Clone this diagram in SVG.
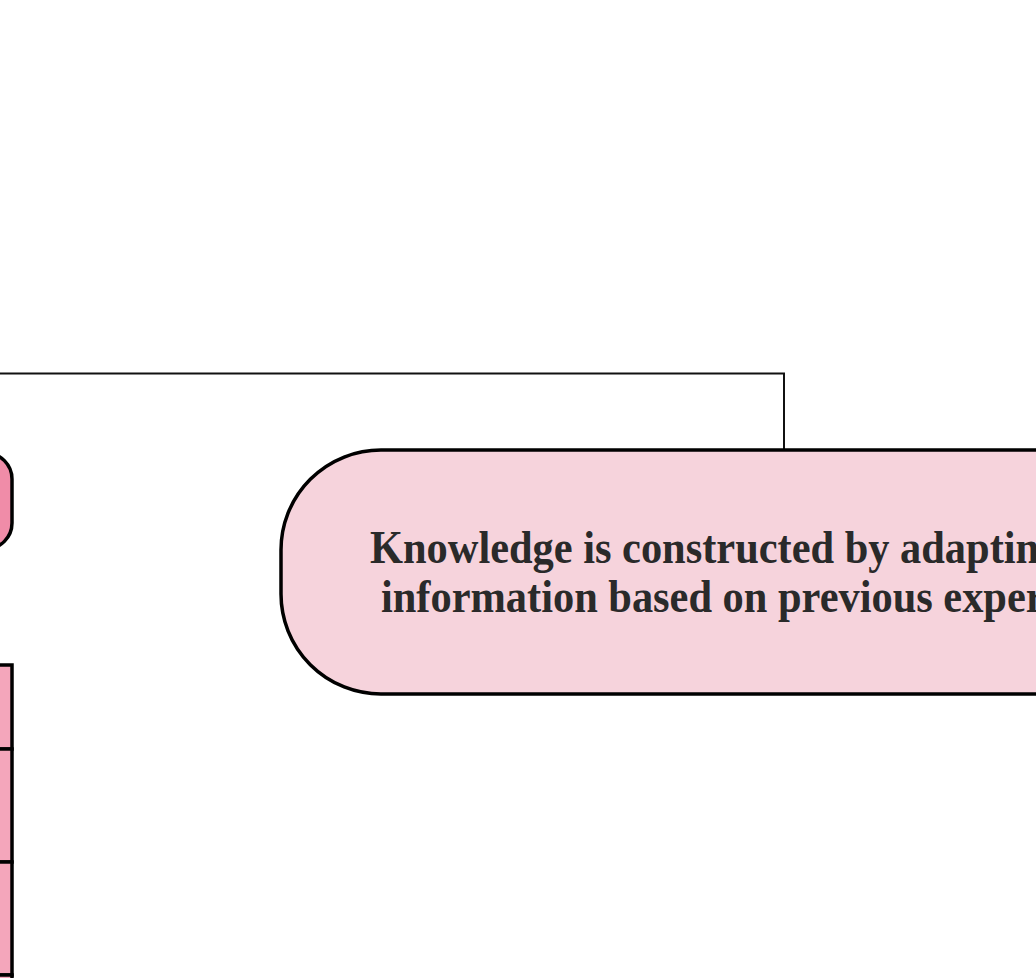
<svg xmlns="http://www.w3.org/2000/svg" width="1036" height="978" viewBox="0 0 1036 978">
<style>
.conn{fill:none;stroke:#111;stroke-width:2}
.box{stroke:#000;stroke-width:3.5}
.main{fill:#F6D3DC}
.dark{fill:#F08CA8}
.cell{fill:#F4A6BB;stroke:#000;stroke-width:3.5}
.t{font-family:"Liberation Serif","Times New Roman",serif;font-weight:bold;font-size:46px;fill:#2a2a2a}
</style>
<rect width="1036" height="978" fill="#fff"/>
<g id="connectors">
<path class="conn" d="M-10 373.5 H784 V450"/>
</g>
<g id="node-left-top">
<rect class="box dark" x="-200" y="453" width="212" height="96" rx="26"/>
</g>
<g id="node-left-table">
<rect class="cell" x="-300" y="665" width="312" height="84"/>
<rect class="cell" x="-300" y="749" width="312" height="113"/>
<rect class="cell" x="-300" y="862" width="312" height="113"/>
<rect class="cell" x="-300" y="975" width="312" height="113"/>
</g>
<g id="node-main">
<rect class="box main" x="281" y="450" width="1100" height="244" rx="100"/>
<text class="t" transform="translate(370,563) scale(0.922,1)">Knowledge is constructed by adapting</text>
<text class="t" transform="translate(381,612) scale(0.922,1)">information based on previous experience</text>
</g>
</svg>
